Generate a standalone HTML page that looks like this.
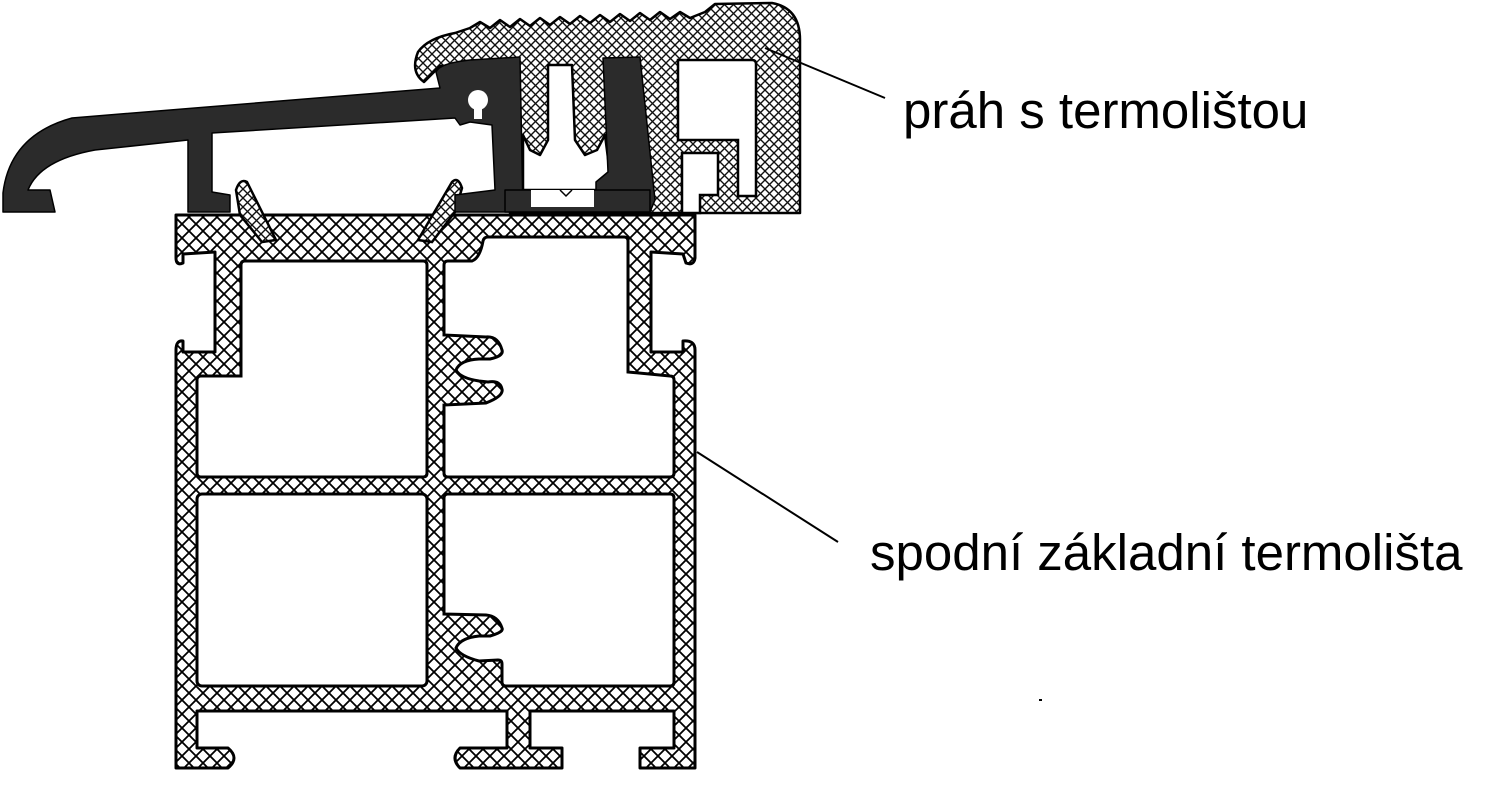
<!DOCTYPE html>
<html><head><meta charset="utf-8"><style>
html,body{margin:0;padding:0;background:#fff;}
svg{display:block}
text{font-family:"Liberation Sans",sans-serif;font-size:51px;fill:#000}
</style></head><body>
<svg width="1492" height="812" viewBox="0 0 1492 812" xmlns="http://www.w3.org/2000/svg">
<defs>
<pattern id="h" width="14" height="14" patternUnits="userSpaceOnUse">
<rect width="14" height="14" fill="#fff"/>
<path d="M0,0L14,14M14,0L0,14" stroke="#000" stroke-width="1.8"/>
</pattern>
<pattern id="h2" width="9" height="9" patternUnits="userSpaceOnUse">
<rect width="9" height="9" fill="#fff"/>
<path d="M0,0L9,9M9,0L0,9" stroke="#111" stroke-width="1.4"/>
</pattern>
</defs>

<!-- bottom profile -->
<path d="M176,215 L695,215 L695,258 Q694,266 686,263 L683,254 L651,252 L651,352 L683,352 L683,341 Q695,340 695,350 L695,768 L640,768 L640,748 L674,748 L674,711 L530,711 L530,748 L562,748 L562,768 L460,768 Q450,758 460,748 L507,748 L507,711 L197,711 L197,748 L228,748 Q240,758 228,768 L176,768 L176,350 Q176,340 183,341 L183,352 L215,352 L215,252 L183,254 L183,263 Q176,266 176,258 Z" fill="url(#h)" stroke="#000" stroke-width="3" stroke-linejoin="round"/>
<!-- cavities -->
<path d="M245,261 L423,261 Q427,261 427,265 L427,473 Q427,477 423,477 L201,477 Q197,477 197,473 L197,380 Q197,376 201,376 L241,376 L241,265 Q241,261 245,261 Z" fill="#fff" stroke="#000" stroke-width="3"/>
<path d="M448,261 L472,261 Q480,258 483,241 Q484,237 488,237 L624,237 Q628,237 628,241 L628,372 L670,376 Q674,376 674,380 L674,473 Q674,477 670,477 L448,477 Q444,477 444,473 L444,405 L486,403 Q504,396 502,389 Q500,380 488,382 L479,381 Q460,378 456,370 Q460,360 479,359 L490,359 Q504,356 502,350 Q498,336 486,337 L444,335 L444,265 Q444,261 448,261 Z" fill="#fff" stroke="#000" stroke-width="3"/>
<rect x="197" y="494" width="230" height="192" rx="5" fill="#fff" stroke="#000" stroke-width="3"/>
<path d="M448,494 L670,494 Q674,494 674,498 L674,682 Q674,686 670,686 L506,686 Q502,686 502,682 L502,664 Q502,660 498,660 L479,661 Q460,656 456,648 Q460,638 479,636 L490,636 Q504,632 502,628 Q498,616 486,615 L444,614 L444,498 Q444,494 448,494 Z" fill="#fff" stroke="#000" stroke-width="3"/>
<line x1="507" y1="711" x2="507" y2="748" stroke="#000" stroke-width="3"/>

<!-- clip fingers -->
<path d="M236,190 Q240,178 247,182 L276,240 L262,242 L240,215 Z" fill="url(#h2)" stroke="#000" stroke-width="2.5"/>
<path d="M452,182 Q458,176 462,188 L455,212 L432,242 L418,240 Z" fill="url(#h2)" stroke="#000" stroke-width="2.5"/>

<!-- threshold hatched -->
<path d="M424,82 Q410,72 418,52 Q428,38 455,33 L470,28 L480,22 L490,28 L500,20 L510,27 L520,19 L530,26 L540,18 L550,25 L560,17 L570,24 L580,16 L590,23 L600,15 L610,22 L620,14 L630,21 L640,13 L650,20 L660,12 L670,19 L680,12 L690,18 L705,12 L715,4 L772,3 Q800,8 800,40 L800,213 L640,213 L510,213 L510,62 L440,66 Z" fill="url(#h2)" stroke="#000" stroke-width="2.5" stroke-linejoin="round"/>
<path d="M678,60 L752,60 Q756,60 756,64 L756,196 L738,196 L738,140 L678,140 Z" fill="#fff" stroke="#000" stroke-width="2.5"/>
<path d="M682,153 L718,153 L718,195 L700,195 L700,213 L682,213 Z" fill="#fff" stroke="#000" stroke-width="2.5"/>
<path d="M523,190 L523,135 L530,150 L540,155 L548,140 L548,65 L572,65 L575,140 L585,155 L597,150 L605,135 L612,190 Z" fill="#fff" stroke="#000" stroke-width="2.5" stroke-linejoin="round"/>

<!-- dark profile -->
<g fill="#2b2b2b" stroke="#000" stroke-width="1.5" stroke-linejoin="round">
<path d="M3,212 L3,193 Q10,135 72,118 L440,88 L436,72 Q440,63 470,60 L520,57 L523,212 L455,212 L455,195 L495,190 L492,125 L470,122 L460,125 L455,118 L212,133 L212,192 L230,195 L230,212 L188,212 L188,140 L95,150 Q40,160 28,190 L50,190 L55,212 Z"/>
<path d="M603,58 L640,57 L655,200 L650,212 L596,212 L596,182 L608,172 L606,125 Z"/>
<path d="M505,190 L650,190 L650,212 L505,212 Z"/>
</g>
<rect x="531" y="190" width="63" height="17" fill="#fff"/>
<path d="M560,190 L566,196 L572,190" fill="none" stroke="#000" stroke-width="1.5"/>
<circle cx="478" cy="100" r="10" fill="#fff"/>
<rect x="474" y="105" width="8" height="14" fill="#fff"/>

<!-- leaders -->
<line x1="765" y1="48" x2="885" y2="98" stroke="#000" stroke-width="2"/>
<line x1="697" y1="452" x2="838" y2="542" stroke="#000" stroke-width="2"/>
<rect x="1039" y="699" width="3" height="2" fill="#000"/>

<text x="903" y="128">práh s termolištou</text>
<text x="870" y="570">spodní základní termolišta</text>
</svg>
</body></html>
